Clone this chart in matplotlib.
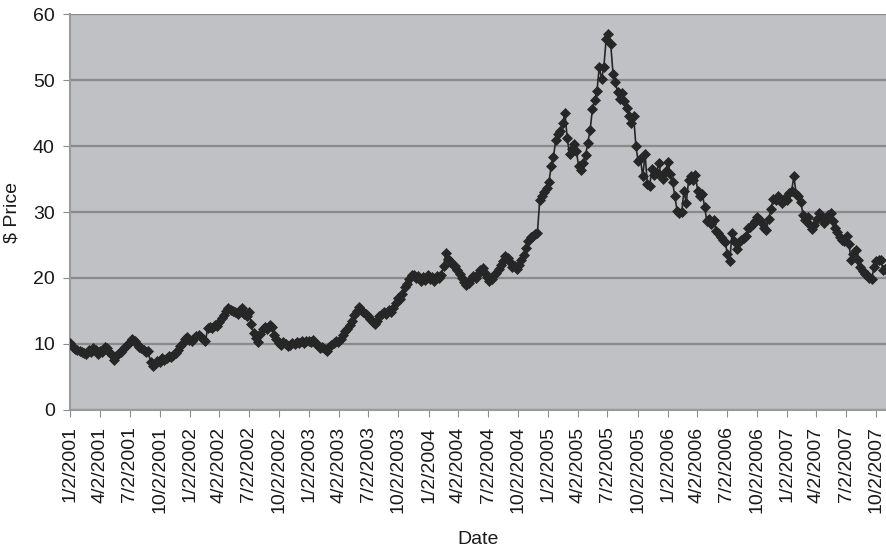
import matplotlib
matplotlib.use("Agg")
import matplotlib.pyplot as plt
import pandas as pd

# weekly closing prices, first week starting 1/2/2001
price_2001 = [10.2, 9.6, 9.2, 9.1, 8.9, 8.8, 8.6, 8.4, 9.0, 8.7, 9.3, 9.0, 8.5,
              8.9, 8.7, 9.6, 9.4, 8.7, 8.3, 7.6, 8.2, 8.4, 8.8, 9.2, 9.6, 10.0,
              10.3, 10.8, 10.4, 10.0, 9.6, 9.3, 9.0, 8.7, 8.9, 7.2, 6.7, 7.0, 7.4,
              7.2, 7.8, 7.6, 7.9, 8.2, 8.0, 8.3, 8.6, 9.1, 9.7, 10.2, 10.8, 11.0]
price_2002 = [10.6, 10.4, 10.9, 11.2, 11.4, 11.0, 10.8, 10.5, 12.4, 12.6, 12.4, 12.9, 12.7,
              13.3, 14.0, 14.4, 15.0, 15.4, 15.2, 15.0, 14.8, 14.5, 15.2, 15.5, 14.6, 14.3,
              14.8, 13.0, 11.6, 10.9, 10.3, 11.5, 12.2, 12.6, 12.3, 12.8, 12.5, 11.4, 10.8,
              10.2, 9.8, 10.3, 10.0, 9.7, 9.9, 10.2, 10.0, 10.3, 10.1, 10.4, 10.2, 10.5]
price_2003 = [10.5, 10.3, 10.6, 10.2, 9.8, 9.4, 9.6, 9.2, 8.9, 9.5, 9.8, 10.2, 10.5,
              10.3, 10.8, 11.3, 11.9, 12.3, 12.8, 13.5, 14.4, 15.0, 15.6, 15.2, 14.8, 14.5,
              14.2, 13.8, 13.3, 13.0, 13.5, 14.2, 14.5, 14.9, 14.6, 15.1, 14.8, 15.4, 16.2,
              17.0, 16.8, 17.6, 18.6, 19.1, 19.8, 20.5, 20.4, 20.0, 20.3, 19.6, 20.1, 19.7]
price_2004 = [20.4, 19.8, 20.1, 19.6, 20.3, 20.0, 20.5, 21.8, 23.8, 22.9, 22.5, 22.0, 21.8,
              21.2, 20.6, 20.0, 19.4, 19.0, 19.3, 19.8, 20.3, 20.0, 20.6, 21.2, 21.5, 20.8,
              20.2, 19.6, 19.9, 20.4, 20.8, 21.4, 22.0, 22.6, 23.3, 23.0, 22.4, 21.6, 21.8,
              21.3, 22.0, 22.8, 23.5, 24.6, 25.6, 26.2, 26.4, 26.7, 26.9, 31.9, 32.5, 33.0]
price_2005 = [33.6, 34.5, 37.0, 38.4, 41.0, 41.8, 42.3, 43.5, 45.0, 41.2, 38.8, 39.6, 40.3,
              39.2, 37.0, 36.4, 37.4, 38.6, 40.5, 42.5, 45.6, 47.0, 48.4, 52.0, 50.2, 52.0,
              56.3, 57.0, 55.5, 51.0, 49.8, 48.2, 47.2, 48.0, 46.8, 45.8, 44.6, 43.5, 44.6,
              40.0, 37.7, 38.0, 35.4, 38.8, 34.3, 34.0, 36.6, 35.7, 36.0, 37.5, 35.4, 35.0]
price_2006 = [36.2, 37.6, 35.8, 34.6, 32.4, 30.2, 29.8, 30.0, 33.2, 31.4, 34.8, 35.4, 34.8,
              35.6, 33.2, 32.4, 32.8, 30.8, 28.6, 29.0, 28.2, 28.8, 27.2, 26.8, 26.2, 25.8,
              25.4, 23.6, 22.6, 26.8, 25.6, 24.4, 25.4, 25.8, 26.0, 26.4, 27.6, 27.8, 28.2,
              28.6, 29.3, 28.8, 28.3, 27.6, 27.3, 29.0, 30.4, 32.0, 31.8, 32.4, 32.0, 31.4]
price_2007 = [32.2, 31.8, 32.9, 33.2, 35.4, 32.8, 32.4, 31.6, 29.6, 28.8, 29.2, 28.0, 27.4,
              28.0, 29.0, 29.9, 29.4, 28.4, 28.8, 29.6, 29.8, 28.6, 27.6, 27.0, 26.2, 25.8,
              25.6, 26.3, 25.2, 22.8, 23.6, 24.2, 22.8, 21.6, 21.0, 20.6, 20.4, 20.0, 19.9,
              21.6, 22.6, 22.8, 22.8, 21.2, 21.4]

tick_dates = ["%d/2/%d" % (m, y) for y in range(2001, 2008) for m in (1, 4, 7, 10)]

prices = price_2001 + price_2002 + price_2003 + price_2004 + price_2005 + price_2006 + price_2007
dates = pd.date_range("2001-01-02", periods=len(prices), freq="7D")

plt.rcParams["font.family"] = ["Liberation Sans", "DejaVu Sans"]

fig = plt.figure(figsize=(8.87, 5.53), dpi=100)
ax = fig.add_axes([0.079, 0.259, 0.92, 0.715])
ax.set_facecolor("#c0c1c5")

ax.plot(dates, prices, color="#262626", lw=1.2, marker="D", markersize=5.0,
        markeredgewidth=0.5, zorder=3)

ticks = pd.to_datetime(tick_dates, format="%m/%d/%Y")
ax.set_xticks(ticks)
ax.set_xticklabels(tick_dates, rotation=90, fontsize=14, color="#1a1a1a")
ax.set_xlim(dates[0] - pd.Timedelta(days=1), dates[-1] + pd.Timedelta(days=2))

ax.set_ylim(0, 60)
ax.set_yticks(range(0, 61, 10))
ax.tick_params(axis="y", labelsize=14, labelcolor="#1a1a1a", length=5, color="#8c8c8c", pad=6)
ax.tick_params(axis="x", length=5, color="#8c8c8c", pad=7)
ax.yaxis.grid(True, color="#8a8a8a", lw=1.6)
ax.set_axisbelow(True)

for side in ("top", "right"):
    ax.spines[side].set_visible(False)
for side in ("left", "bottom"):
    ax.spines[side].set_color("#9a9a9a")
    ax.spines[side].set_linewidth(1.5)

ax.set_ylabel("$ Price", fontsize=14, color="#1a1a1a", labelpad=9)
ax.set_xlabel("Date", fontsize=14, color="#1a1a1a", labelpad=13)

fig.savefig("out.png", dpi=100)
